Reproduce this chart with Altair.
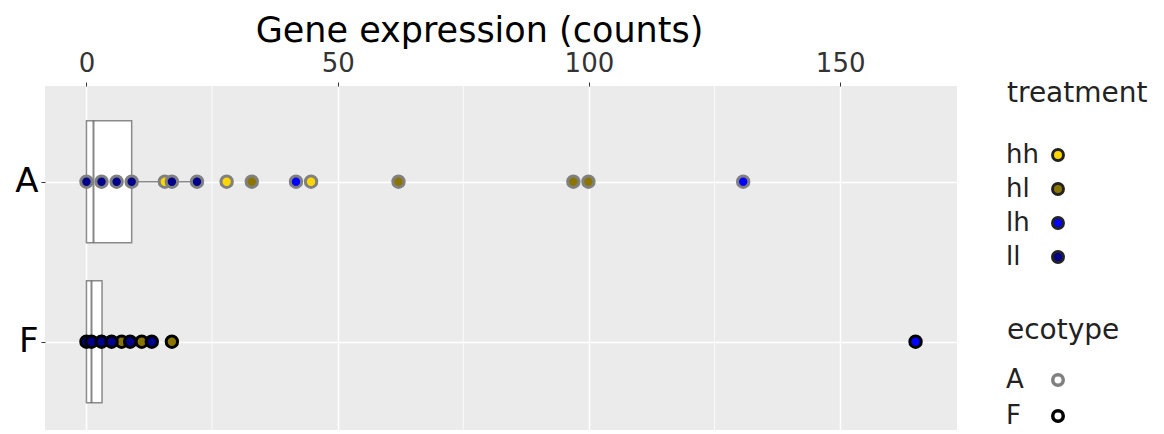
import altair as alt
import pandas as pd

# ---- data ----
# ecotype A points (by treatment, in drawing order)
A_treatment = ["lh", "lh", "hh", "hh", "hh", "hl", "hl", "hl", "hl", "ll", "ll", "ll", "ll", "ll", "ll"]
A_counts = [41.7, 130.7, 15.6, 27.9, 44.7, 32.9, 62.1, 96.9, 99.9, 0.0, 3.0, 6.0, 9.0, 17.0, 22.0]
# ecotype F points
F_treatment = ["hl", "hl", "hl", "lh", "ll", "ll", "ll", "ll", "ll", "ll"]
F_counts = [7.0, 11.0, 17.0, 165.0, 0.0, 1.0, 3.0, 5.0, 8.7, 13.0]

# box statistics per ecotype
box_ecotype = ["A", "F"]
box_q1 = [0.0, 0.0]
box_median = [1.4, 1.0]
box_q3 = [9.0, 3.1]
box_whisker_hi = [22.0, 7.0]

treatment_levels = ["hh", "hl", "lh", "ll"]
treatment_colors = ["#FFD700", "#8B7500", "#0000FF", "#00008B"]
ecotype_levels = ["A", "F"]
ecotype_colors = ["#808080", "#000000"]

major_ticks = [0, 50, 100, 150]
minor_ticks = [25, 75, 125]

pts = pd.DataFrame({
    "ecotype": ["A"] * len(A_counts) + ["F"] * len(F_counts),
    "treatment": A_treatment + F_treatment,
    "counts": A_counts + F_counts,
})
pts["order"] = range(len(pts))
box = pd.DataFrame({"ecotype": box_ecotype, "q1": box_q1, "median": box_median,
                    "q3": box_q3, "whi": box_whisker_hi})
minor = pd.DataFrame({"v": minor_ticks})

FONT = "DejaVu Sans"
xscale = alt.Scale(domain=[-8.25, 173.25], nice=False, zero=False)
xaxis = alt.Axis(orient="top", values=major_ticks, grid=True, gridColor="white", gridWidth=1.5,
                 domain=False, ticks=True, tickSize=4, tickColor="#333333", tickWidth=1,
                 labelFontSize=26, labelColor="#333333", labelPadding=6, labelFont=FONT,
                 title="Gene expression (counts)", titleFontSize=35, titleFontWeight="normal",
                 titleColor="#000000", titleFont=FONT, titlePadding=2, titleX=434)
yscale = alt.Scale(type="point", domain=ecotype_levels, padding=0.575, align=0.52)
yaxis = alt.Axis(grid=True, gridColor="white", gridWidth=1.5, domain=False, ticks=True,
                 tickSize=4, tickColor="#333333", labelFontSize=34, labelColor="#000000",
                 labelFont=FONT, labelPadding=3, title=None)

X = lambda f: alt.X(f"{f}:Q", scale=xscale, axis=xaxis)
Y = alt.Y("ecotype:N", scale=yscale, axis=yaxis)

minor_grid = alt.Chart(minor).mark_rule(color="white", strokeWidth=0.8).encode(x=X("v"))

whisk = alt.Chart(box).mark_rule(color="#8a8a8a", strokeWidth=1.5).encode(
    x=X("q3"), x2="whi", y=Y)
boxes = alt.Chart(box).mark_bar(size=122, fill="white", stroke="#8a8a8a", strokeWidth=1.5).encode(
    x=X("q1"), x2="q3", y=Y)
medians = alt.Chart(box).mark_tick(size=122, thickness=2, color="#555555", orient="vertical").encode(
    x=X("median"), y=Y)

points = alt.Chart(pts).mark_point(filled=True, shape="circle", size=130, strokeWidth=3,
                                   opacity=1).encode(
    x=X("counts"), y=Y,
    fill=alt.Fill("treatment:N", scale=alt.Scale(domain=treatment_levels, range=treatment_colors),
                  legend=alt.Legend(title="treatment", orient="none", legendX=962, legendY=-6,
                                    symbolType="circle", symbolSize=120, symbolStrokeWidth=3,
                                    symbolStrokeColor="#222222", symbolOffset=38,
                                    labelOffset={"expr": "-65"},
                                    titlePadding=34, rowPadding=8, padding=0)),
    stroke=alt.Stroke("ecotype:N", scale=alt.Scale(domain=ecotype_levels, range=ecotype_colors),
                      legend=alt.Legend(title="ecotype", orient="none", legendX=962, legendY=231,
                                        symbolType="circle", symbolSize=110, symbolStrokeWidth=3.5,
                                        symbolFillColor="white", symbolOffset=38,
                                        labelOffset={"expr": "-65"},
                                        titlePadding=22, rowPadding=10, padding=0)),
    order=alt.Order("order:Q"),
)

chart = alt.layer(minor_grid, whisk, boxes, medians, points).properties(
    width=912, height=344,
    autosize=alt.AutoSizeParams(type="none"),
    padding={"left": 37, "top": 78, "right": 199, "bottom": 0},
).configure_view(fill="#EBEBEB", stroke=None).configure_legend(
    titleFontSize=28, titleFont=FONT, titleColor="#222222", titleFontWeight="normal",
    labelFontSize=26, labelFont=FONT, labelColor="#222222",
)

chart.save("out.html", embed_options={"renderer": "svg", "actions": False})
